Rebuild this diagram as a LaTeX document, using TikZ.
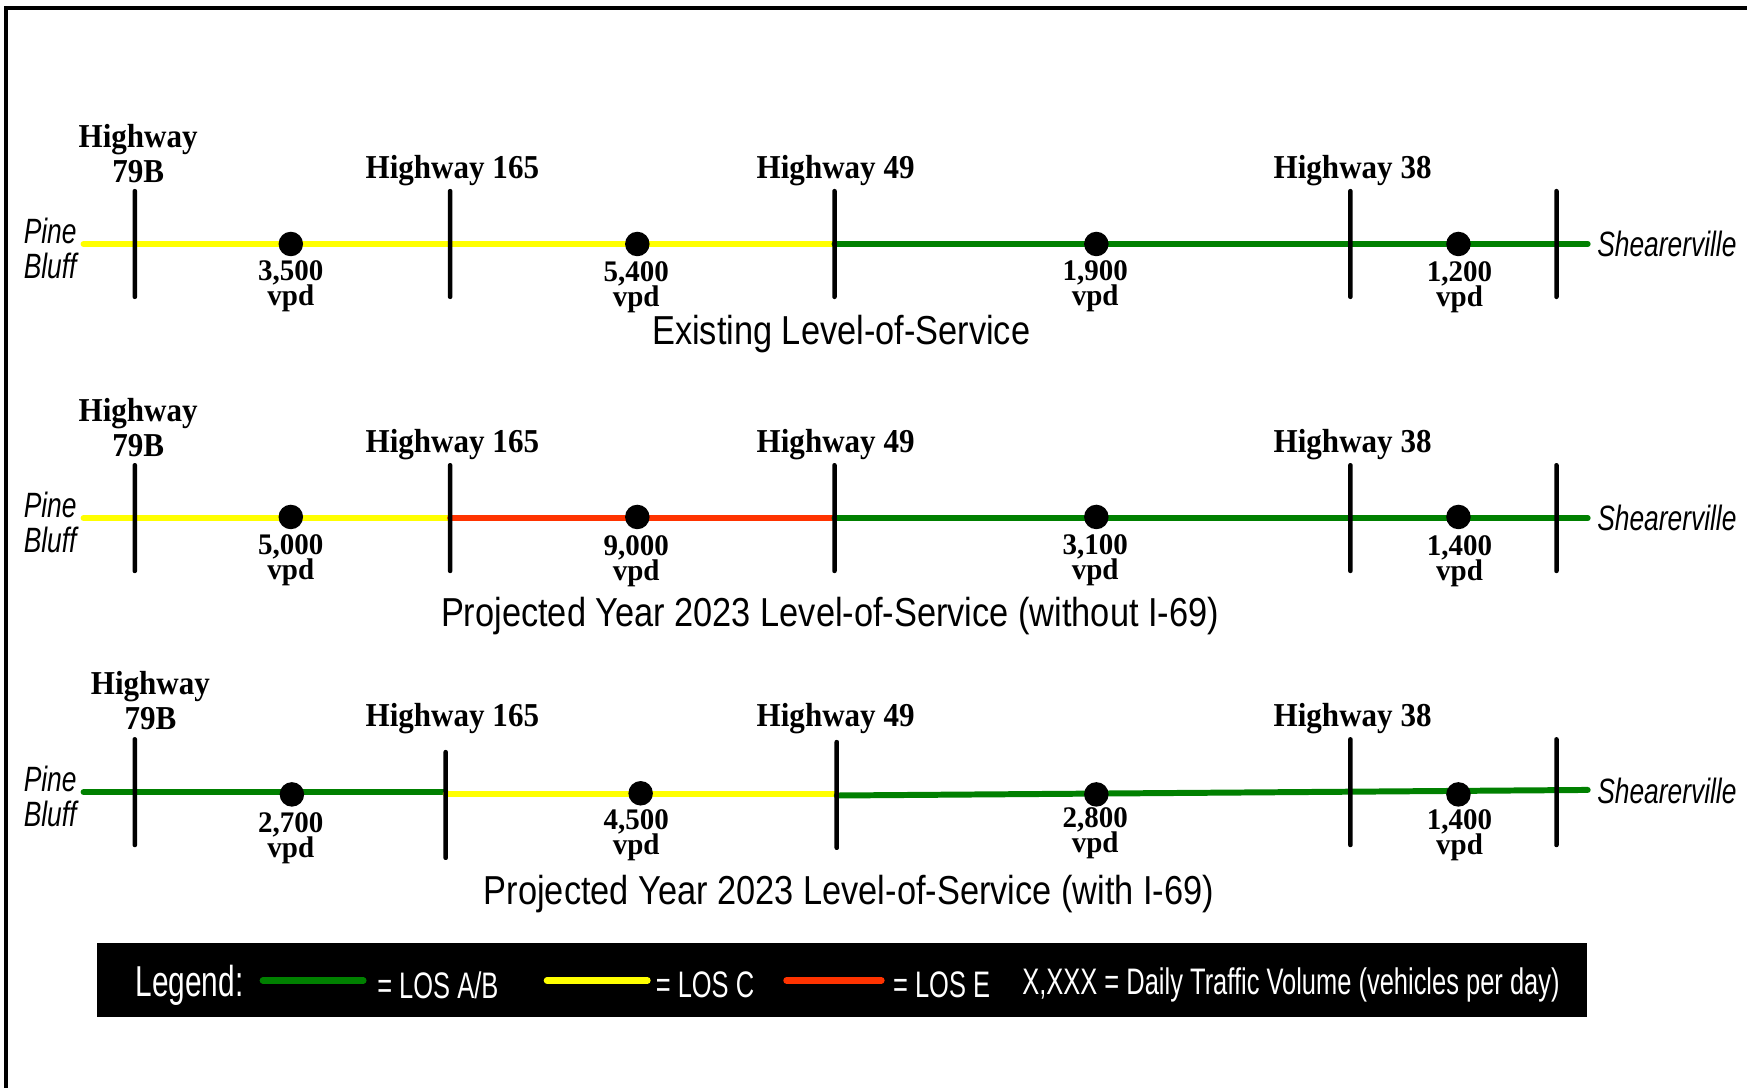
\documentclass[tikz,border=0pt]{standalone}
\usepackage{fontspec}
\setmainfont{Liberation Serif}
\newfontfamily\hwfam[FakeStretch=0.93]{Liberation Serif}
\newfontfamily\volfam[FakeStretch=0.97]{Liberation Serif}
\newfontfamily\ttlfam[FakeStretch=0.85]{Liberation Sans}
\newfontfamily\townfam[FakeStretch=0.75]{Liberation Sans}
\newfontfamily\legfam[FakeStretch=0.69]{Liberation Sans}
\definecolor{losg}{RGB}{0,128,0}
\definecolor{losy}{RGB}{255,255,0}
\definecolor{losr}{RGB}{255,51,0}
\tikzset{
  roadG/.style={line width=1.7pt, draw=losg, line cap=round},
  roadY/.style={line width=1.7pt, draw=losy, line cap=round},
  roadR/.style={line width=1.7pt, draw=losr, line cap=round},
  hwbar/.style={rectangle, fill=black, inner sep=0pt, minimum width=0.045cm, minimum height=1.1cm, rounded corners=0.02cm},
  dot/.style={circle, fill=black, inner sep=0pt, minimum size=0.245cm},
  hwlab/.style={font=\hwfam\bfseries\fontsize{9.5}{10}\selectfont, align=center, inner sep=0pt},
  vol/.style={font=\volfam\bfseries\fontsize{8.5}{10}\selectfont, align=center, inner sep=0pt},
  town/.style={font=\townfam\itshape\fontsize{10}{9.8}\selectfont, align=center, inner sep=0pt},
  ttl/.style={font=\ttlfam\fontsize{11.5}{13}\selectfont, inner sep=0pt},
  leg/.style={font=\legfam\fontsize{10.5}{12}\selectfont, text=white, inner sep=0pt, anchor=west},
  legline/.style={line width=1.9pt, line cap=round}
}
\begin{document}
\begin{tikzpicture}[x=0.011142cm, y=-0.011142cm]
\useasboundingbox (0,0) rectangle (1568,976);
% frame
\coordinate (fBL) at (5.4,990);
\coordinate (fTL) at (5.4,7.2);
\coordinate (fTR) at (1580,7.2);
\draw[line width=0.9pt] (fBL) -- (fTL) -- (fTR);

%%%%%%%% Row 1: Existing
\coordinate (aL) at (75,219);
\coordinate (aM) at (749,219);
\coordinate (aR) at (1425,219);
\draw[roadY] (aL) -- (aM);
\draw[roadG] (aM) -- (aR);
\node[hwbar] (a1) at (121,219) {};
\node[hwbar] (a2) at (404,219) {};
\node[hwbar] (a3) at (749,219) {};
\node[hwbar] (a4) at (1212,219) {};
\node[hwbar] (a5) at (1397,219) {};
\node[dot] (ad1) at (261,219) {};
\node[dot] (ad2) at (572,219) {};
\node[dot] (ad3) at (984,219) {};
\node[dot] (ad4) at (1309,219) {};
\node[hwlab] (ah1) at (124,138) {Highway\\79B};
\node[hwlab] (ah2) at (406,153) {Highway 165};
\node[hwlab] (ah3) at (750,153) {Highway 49};
\node[hwlab] (ah4) at (1214,153) {Highway 38};
\node[vol] (av1) at (261,257) {3,500\\[-2.9pt]vpd};
\node[vol] (av2) at (571,258) {5,400\\[-2.9pt]vpd};
\node[vol] (av3) at (983,257) {1,900\\[-2.9pt]vpd};
\node[vol] (av4) at (1310,258) {1,200\\[-2.9pt]vpd};
\node[town] (apb) at (45,223) {Pine\\Bluff};
\node[town, anchor=west] (ash) at (1433,219) {Shearerville};
\node[ttl] (at) at (755,300) {Existing Level-of-Service};

%%%%%%%% Row 2: Projected without I-69
\coordinate (bL) at (75,465);
\coordinate (bA) at (404,465);
\coordinate (bM) at (749,465);
\coordinate (bR) at (1425,465);
\draw[roadY] (bL) -- (bA);
\draw[roadR] (bA) -- (bM);
\draw[roadG] (bM) -- (bR);
\node[hwbar] (b1) at (121,465) {};
\node[hwbar] (b2) at (404,465) {};
\node[hwbar] (b3) at (749,465) {};
\node[hwbar] (b4) at (1212,465) {};
\node[hwbar] (b5) at (1397,465) {};
\node[dot] (bd1) at (261,464) {};
\node[dot] (bd2) at (572,464) {};
\node[dot] (bd3) at (984,464) {};
\node[dot] (bd4) at (1309,464) {};
\node[hwlab] (bh1) at (124,384) {Highway\\79B};
\node[hwlab] (bh2) at (406,399) {Highway 165};
\node[hwlab] (bh3) at (750,399) {Highway 49};
\node[hwlab] (bh4) at (1214,399) {Highway 38};
\node[vol] (bv1) at (261,503) {5,000\\[-2.9pt]vpd};
\node[vol] (bv2) at (571,504) {9,000\\[-2.9pt]vpd};
\node[vol] (bv3) at (983,503) {3,100\\[-2.9pt]vpd};
\node[vol] (bv4) at (1310,504) {1,400\\[-2.9pt]vpd};
\node[town] (bpb) at (45,469) {Pine\\Bluff};
\node[town, anchor=west] (bsh) at (1433,465) {Shearerville};
\node[ttl] (bt) at (745,553) {Projected Year 2023 Level-of-Service (without I-69)};

%%%%%%%% Row 3: Projected with I-69
\coordinate (cL) at (75,711);
\coordinate (cA1) at (400,711);
\coordinate (cA2) at (400,713);
\coordinate (cM1) at (751,713);
\coordinate (cM2) at (751,714);
\coordinate (cR) at (1425,709);
\draw[roadG] (cL) -- (cA1);
\draw[roadY] (cA2) -- (cM1);
\draw[roadG] (cM2) -- (cR);
\node[hwbar] (c1) at (121,711) {};
\node[hwbar] (c2) at (400,722.5) {};
\node[hwbar] (c3) at (751,713.5) {};
\node[hwbar] (c4) at (1212,711) {};
\node[hwbar] (c5) at (1397,711) {};
\node[dot] (cd1) at (262,713) {};
\node[dot] (cd2) at (575,712) {};
\node[dot] (cd3) at (984,713) {};
\node[dot] (cd4) at (1309,713) {};
\node[hwlab] (ch1) at (135,629) {Highway\\79B};
\node[hwlab] (ch2) at (406,645) {Highway 165};
\node[hwlab] (ch3) at (750,645) {Highway 49};
\node[hwlab] (ch4) at (1214,645) {Highway 38};
\node[vol] (cv1) at (261,752) {2,700\\[-2.9pt]vpd};
\node[vol] (cv2) at (571,750) {4,500\\[-2.9pt]vpd};
\node[vol] (cv3) at (983,748) {2,800\\[-2.9pt]vpd};
\node[vol] (cv4) at (1310,750) {1,400\\[-2.9pt]vpd};
\node[town] (cpb) at (45,715) {Pine\\Bluff};
\node[town, anchor=west] (csh) at (1433,710) {Shearerville};
\node[ttl] (ct) at (762,802) {Projected Year 2023 Level-of-Service (with I-69)};

%%%%%%%% Legend
\node[fill=black, inner sep=0pt, minimum width=1338*0.011142cm, minimum height=66*0.011142cm, anchor=north west] (lg) at (86,846) {};
\node[leg, anchor=center, font=\legfam\fontsize{12.3}{14}\selectfont] (lgt) at (170,884) {Legend:};
\coordinate (lg1a) at (236,880);
\coordinate (lg1b) at (326,880);
\draw[legline, draw=losg] (lg1a) -- (lg1b);
\node[leg] (lgA) at (338,884) {= LOS A/B};
\coordinate (lg2a) at (491,880);
\coordinate (lg2b) at (581,880);
\draw[legline, draw=losy] (lg2a) -- (lg2b);
\node[leg] (lgC) at (588,884) {= LOS C};
\coordinate (lg3a) at (706,880);
\coordinate (lg3b) at (791,880);
\draw[legline, draw=losr] (lg3a) -- (lg3b);
\node[leg] (lgE) at (801,884) {= LOS E};
\node[leg] (lgX) at (917,884) {X,XXX = Daily Traffic Volume (vehicles per day)};
\end{tikzpicture}
\end{document}
